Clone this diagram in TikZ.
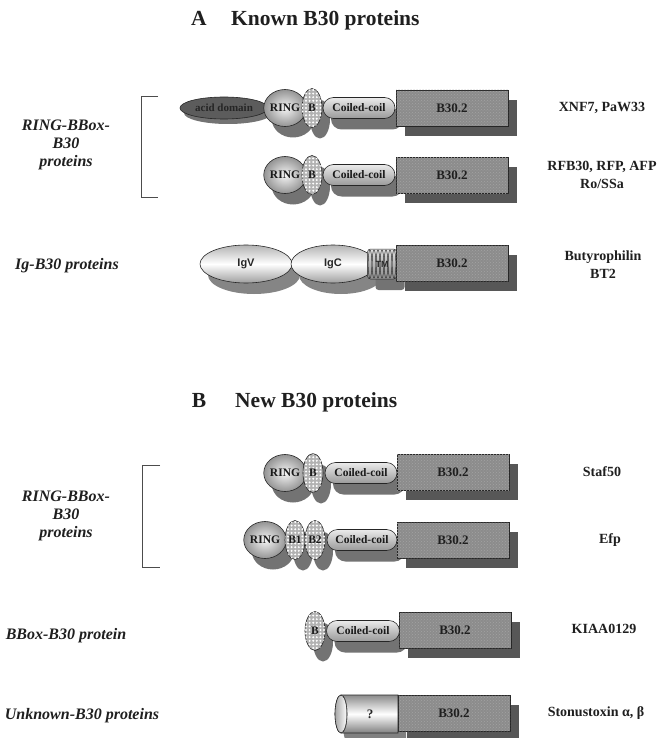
\documentclass[tikz,border=0pt]{standalone}
\usepackage{fontspec}
\setmainfont{Liberation Serif}
\newfontfamily\sansf{Liberation Sans}
\usetikzlibrary{shapes.geometric,shapes.misc,shadows,patterns,patterns.meta}
\begin{document}
\begin{tikzpicture}[x=1pt,y=1pt]
\tikzset{
 dsh/.style={drop shadow={shadow xshift=8pt, shadow yshift=-11pt, fill=black!55, opacity=1}},
 dbase/.style={draw=black!85, line width=0.6pt, inner sep=0pt, font=\bfseries\fontsize{11.5}{12}\selectfont, text=black!90},
 dom/.style={dbase, dsh},
 ringd/.style={dom, ellipse, minimum width=34pt, minimum height=37pt, inner color=black!4, outer color=black!42},
 bd/.style={dom, ellipse, minimum width=20pt, minimum height=39pt, fill=black!30, postaction={pattern={Dots[radius=1.1pt, distance=3.6pt]}, pattern color=white}},
 coil/.style={dom, rounded rectangle, minimum width=72pt, minimum height=21pt, top color=black!8, bottom color=black!40},
 acidd/.style={dbase, ellipse, minimum width=88pt, minimum height=22pt, fill=black!64, text=black!85, font=\bfseries\fontsize{11}{12}\selectfont, drop shadow={shadow xshift=4pt, shadow yshift=-5pt, fill=black!55, opacity=1}},
 b30/.style={draw=black!85, line width=0.6pt, rectangle, minimum width=112pt, minimum height=36pt, fill=black!45, postaction={pattern=crosshatch dots, pattern color=black!36}, inner sep=0pt, font=\bfseries\fontsize{13}{14}\selectfont, text=black!88, drop shadow={shadow xshift=9pt, shadow yshift=-10pt, fill=black!66, opacity=1}},
 igd/.style={draw=black!85, line width=0.6pt, ellipse, minimum height=38pt, inner sep=0pt, top color=black!30, bottom color=black!38, middle color=white, font=\sansf\bfseries\fontsize{11}{12}\selectfont, text=black!85, drop shadow={shadow xshift=8pt, shadow yshift=-11pt, fill=black!48, opacity=1}},
 rlab/.style={font=\bfseries\fontsize{14}{18}\selectfont, align=center, inner sep=0pt, text=black!88},
 llab/.style={font=\bfseries\itshape\fontsize{16}{18}\selectfont, align=center, inner sep=0pt, text=black!88},
 ttl/.style={font=\bfseries\fontsize{21.5}{24}\selectfont, inner sep=0pt, text=black!88},
 brk/.style={line width=0.8pt, black!70},
}
\fill[white] (0,0) rectangle (659,-738);
\useasboundingbox (0,0) rectangle (659,-738);

% ---------- Titles ----------
\node[ttl, anchor=base] (ta) at (199,-26) {A};
\node[ttl, anchor=base west] (tak) at (231,-26) {Known B30 proteins};
\node[ttl, anchor=base] (tb) at (199,-407) {B};
\node[ttl, anchor=base west] (tbn) at (235,-407) {New B30 proteins};

% ---------- Section A ----------
\node[llab] (la1) at (66,-145) {RING-BBox-\\B30\\proteins};
\coordinate (ba1) at (158,-96); \coordinate (ba2) at (141,-96);
\coordinate (ba3) at (141,-197); \coordinate (ba4) at (158,-197);
\draw[brk] (ba1) -- (ba2) -- (ba3) -- (ba4);

% row 1
\node[acidd] (acid) at (224,-108) {acid domain};
\node[ringd] (r1) at (285,-108) {RING};
\node[bd] (b1) at (312,-108) {B};
\node[coil] (c1) at (359,-108) {Coiled-coil};
\node[b30] (x1) at (452,-108) {B30.2};
\node[rlab] (l1) at (602,-108) {XNF7, PaW33};

% row 2
\node[ringd] (r2) at (285,-175) {RING};
\node[bd] (b2) at (312,-175) {B};
\node[coil] (c2) at (359,-175) {Coiled-coil};
\node[b30] (x2) at (452,-175) {B30.2};
\node[rlab] (l2) at (602,-175) {RFB30, RFP, AFP\\Ro/SSa};

% Ig row
\node[llab] (la2) at (67,-266) {Ig-B30 proteins};
\node[igd, minimum width=92pt] (igv) at (246,-264) {IgV};
\node[igd, minimum width=84pt] (igc) at (333,-264) {IgC};
\node[draw=black!85, line width=0.5pt, rounded corners=3pt, minimum width=29pt, minimum height=30pt, top color=black!12, bottom color=black!45, inner sep=0pt, dsh] (tm) at (382,-264) {};
\foreach \xx in {370,374,...,394} \draw[black!80, line width=0.5pt] (\xx,-264) ellipse [x radius=1.8, y radius=14];
\node[font=\sansf\bfseries\fontsize{9}{10}\selectfont, text=black!85, inner sep=0pt] (tmt) at (tm.center) {TM};
\node[b30] (x3) at (452,-263) {B30.2};
\node[rlab] (l3) at (603,-265) {Butyrophilin\\BT2};

% ---------- Section B ----------
\node[llab] (lb1) at (66,-516) {RING-BBox-\\B30\\proteins};
\coordinate (bb1) at (160,-465); \coordinate (bb2) at (142,-465);
\coordinate (bb3) at (142,-567); \coordinate (bb4) at (160,-567);
\draw[brk] (bb1) -- (bb2) -- (bb3) -- (bb4);

% Staf50
\node[ringd] (r4) at (285,-473) {RING};
\node[bd] (b4) at (313,-473) {B};
\node[coil] (c4) at (361,-473) {Coiled-coil};
\node[b30] (x4) at (453,-472) {B30.2};
\node[rlab] (l4) at (602,-472) {Staf50};

% Efp
\node[ringd] (r5) at (265,-540) {RING};
\node[bd] (b5a) at (295,-540) {B1};
\node[bd] (b5b) at (315,-540) {B2};
\node[coil, minimum width=70pt] (c5) at (362,-540) {Coiled-coil};
\node[b30] (x5) at (453,-540) {B30.2};
\node[rlab] (l5) at (610,-540) {Efp};

% KIAA0129
\node[llab] (lb2) at (66,-636) {BBox-B30 protein};
\node[bd] (b6) at (315,-631) {B};
\node[coil, minimum width=73pt] (c6) at (363,-631) {Coiled-coil};
\node[b30] (x6) at (455,-630) {B30.2};
\node[rlab] (l6) at (604,-629) {KIAA0129};

% Unknown
\node[llab] (lb3) at (82,-716) {Unknown-B30 proteins};
\fill[black!50] (406,-706) -- (349,-706) arc[start angle=90, end angle=270, x radius=6, y radius=19] -- (406,-744) -- cycle;
\shade[draw=black!85, line width=0.6pt, top color=black!45, bottom color=black!50, middle color=white] (398,-695) -- (341,-695) arc[start angle=90, end angle=270, x radius=6, y radius=19] -- (398,-733) -- cycle;
\shade[draw=black!85, line width=0.6pt, left color=black!35, right color=white] (341,-714) ellipse [x radius=6, y radius=19];
\draw[black!70, line width=0.5pt] (343,-697) arc[start angle=90, end angle=-90, x radius=4, y radius=17];
\node[font=\bfseries\fontsize{13}{14}\selectfont, text=black!85, inner sep=0pt] (q) at (370,-714) {?};
\node[b30] (x7) at (454,-713) {B30.2};
\node[rlab] (l7) at (596,-713) {Stonustoxin α, β};
\end{tikzpicture}
\end{document}
